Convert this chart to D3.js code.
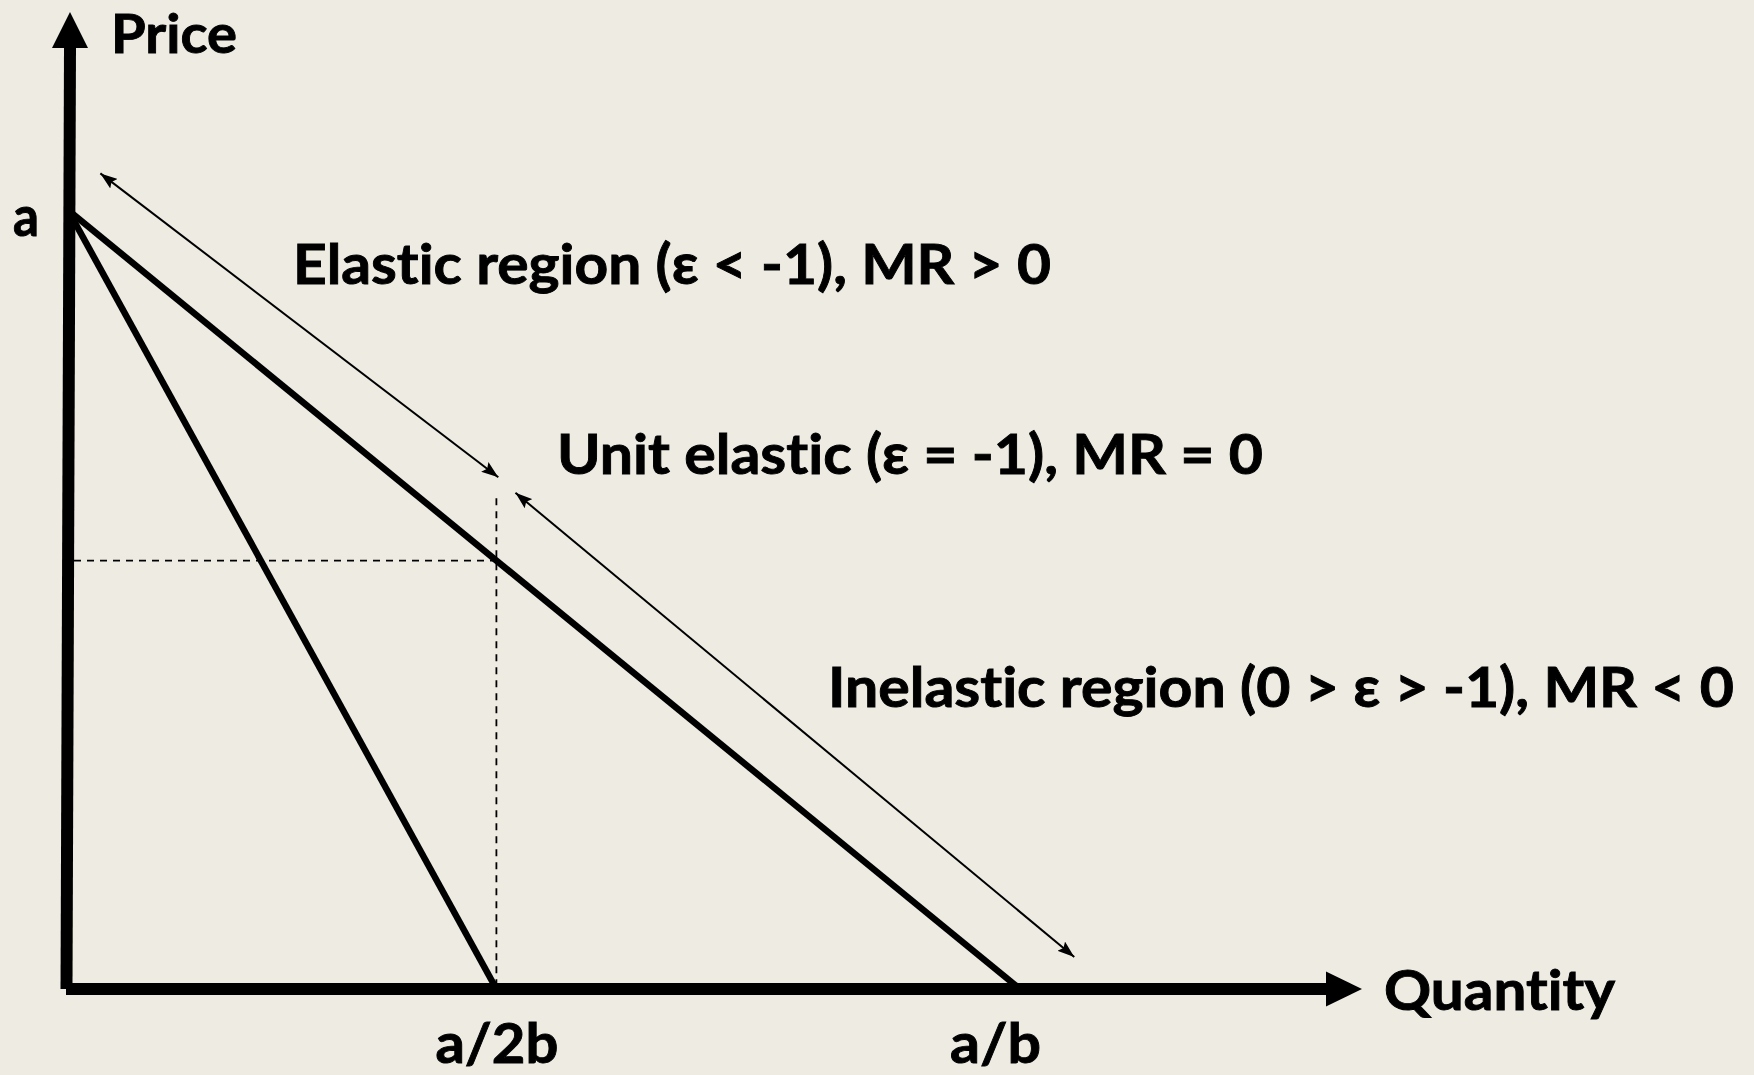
<!DOCTYPE html>
<html>
<head>
<meta charset="utf-8">
<script src="https://cdn.jsdelivr.net/npm/d3@7"></script>
<style>
  html, body { margin: 0; padding: 0; background: #eeece2; }
  svg { display: block; }
  text {
    font-family: Lato, "Open Sans", sans-serif; font-weight: 700; fill: #000;
    stroke: #000; stroke-width: 0.9px;
    font-variant-ligatures: none; font-feature-settings: "liga" 0, "clig" 0;
  }
</style>
</head>
<body>
<svg id="chart" width="1754" height="1075"></svg>
<script>
// Linear demand P = a - bQ, drawn in chart units with a = 10, b = 1
const demandPoints = [[0, 10], [10, 0]];
const mrPoints = [[0, 10], [4.5, 0]];
const unitPoint = [4.5, 5.5];
const unitGuideTop = 6.3;

const xTickValues = [4.5, 10];
const xTickLabels = ["a/2b", "a/b"];
const yTickValues = [10];
const yTickLabels = ["a"];
const axisTitles = ["Quantity", "Price"];

// Double-headed arrows marking the two regions of the demand curve
const regionArrows = [
  [[0.34, 10.47], [4.52, 6.57]],
  [[4.70, 6.37], [10.57, 0.41]]
];
const regionLabels = [
  "Elastic region (ε < -1), MR > 0",
  "Unit elastic (ε = -1), MR = 0",
  "Inelastic region (0 > ε > -1), MR < 0"
];

const svg = d3.select("#chart");
const W = 1754, H = 1075;
svg.append("rect").attr("width", W).attr("height", H).attr("fill", "#eeece2");

const x = d3.scaleLinear().domain([0, 10]).range([68, 1020]);
const y = d3.scaleLinear().domain([0, 10]).range([989, 210]);

const FS = 56;

// Arrowhead marker for the thin region arrows
const defs = svg.append("defs");
defs.append("marker")
  .attr("id", "head")
  .attr("markerUnits", "userSpaceOnUse")
  .attr("viewBox", "0 0 17 12")
  .attr("refX", 17).attr("refY", 6)
  .attr("markerWidth", 17).attr("markerHeight", 12)
  .attr("orient", "auto-start-reverse")
  .append("path").attr("d", "M0,0 L17,6 L0,12 L3,6 Z").attr("fill", "#000");

// Axes: thick lines ending in solid arrowheads
const x0 = x(0), y0 = y(0);
const yTop = 48, yTip = 12, xEnd = 1326, xTip = 1362;
svg.append("line")
  .attr("x1", x0 - 1.5).attr("y1", y0)
  .attr("x2", x0 + 2).attr("y2", yTop)
  .attr("stroke", "#000").attr("stroke-width", 12);
svg.append("path")
  .attr("d", `M${x0 + 2 - 18},${yTop} L${x0 + 2},${yTip} L${x0 + 18 + 2},${yTop} Z`)
  .attr("fill", "#000");
svg.append("line")
  .attr("x1", x0 - 2).attr("y1", y0)
  .attr("x2", xEnd).attr("y2", y0)
  .attr("stroke", "#000").attr("stroke-width", 12);
svg.append("path")
  .attr("d", `M${xEnd},${y0 - 17.5} L${xTip},${y0} L${xEnd},${y0 + 17.5} Z`)
  .attr("fill", "#000");

// Dashed guides to the unit-elastic point
const dash = "7,6";
svg.append("line")
  .attr("x1", x0 + 6).attr("y1", y(unitPoint[1]))
  .attr("x2", x(unitPoint[0])).attr("y2", y(unitPoint[1]))
  .attr("stroke", "#000").attr("stroke-width", 1.8).attr("stroke-dasharray", dash);
svg.append("line")
  .attr("x1", x(unitPoint[0])).attr("y1", y(unitGuideTop))
  .attr("x2", x(unitPoint[0])).attr("y2", y0 - 6)
  .attr("stroke", "#000").attr("stroke-width", 1.8).attr("stroke-dasharray", dash);

// Demand and marginal revenue curves
const line = d3.line().x(d => x(d[0])).y(d => y(d[1]));
svg.append("path").datum(demandPoints).attr("d", line)
  .attr("fill", "none").attr("stroke", "#000").attr("stroke-width", 6.5);
svg.append("path").datum(mrPoints).attr("d", line)
  .attr("fill", "none").attr("stroke", "#000").attr("stroke-width", 6.5);

// Region arrows
svg.selectAll("line.region").data(regionArrows).join("line")
  .attr("class", "region")
  .attr("x1", d => x(d[0][0])).attr("y1", d => y(d[0][1]))
  .attr("x2", d => x(d[1][0])).attr("y2", d => y(d[1][1]))
  .attr("stroke", "#000").attr("stroke-width", 2)
  .attr("marker-start", "url(#head)").attr("marker-end", "url(#head)");

// Tick labels through D3 axes
const gx = svg.append("g").attr("transform", `translate(0,${y0})`)
  .call(d3.axisBottom(x).tickValues(xTickValues)
    .tickFormat((d, i) => xTickLabels[i]).tickSize(0));
gx.attr("font-family", null).attr("font-size", null);
gx.select(".domain").remove();
gx.selectAll("text")
  .attr("y", 74).attr("dy", 0)
  .attr("font-size", FS)
  .attr("dx", (d, i) => i === 1 ? -25 : 0)
  .attr("textLength", (d, i) => [123, 91][i])
  .attr("lengthAdjust", "spacingAndGlyphs");

const gy = svg.append("g").attr("transform", `translate(${x0},0)`)
  .call(d3.axisLeft(y).tickValues(yTickValues)
    .tickFormat((d, i) => yTickLabels[i]).tickSize(0));
gy.attr("font-family", null).attr("font-size", null);
gy.select(".domain").remove();
gy.selectAll("text")
  .attr("x", -29).attr("y", 25).attr("dy", 0)
  .attr("font-size", FS)
  .attr("textLength", 26)
  .attr("lengthAdjust", "spacingAndGlyphs");

// Axis titles
const titlePos = [[1384, 1010, 231, FS], [111, 53, 126, 54]];
svg.selectAll("text.title").data(axisTitles).join("text")
  .attr("class", "title")
  .attr("x", (d, i) => titlePos[i][0]).attr("y", (d, i) => titlePos[i][1])
  .attr("font-size", (d, i) => titlePos[i][3])
  .attr("textLength", (d, i) => titlePos[i][2])
  .attr("lengthAdjust", "spacingAndGlyphs")
  .text(d => d);

// Region annotations
const labelPos = [[293, 284, 758], [557, 474, 706], [828, 707, 906]];
svg.selectAll("text.region").data(regionLabels).join("text")
  .attr("class", "region")
  .attr("x", (d, i) => labelPos[i][0]).attr("y", (d, i) => labelPos[i][1])
  .attr("font-size", FS)
  .attr("textLength", (d, i) => labelPos[i][2])
  .attr("lengthAdjust", "spacingAndGlyphs")
  .text(d => d);
</script>
</body>
</html>
